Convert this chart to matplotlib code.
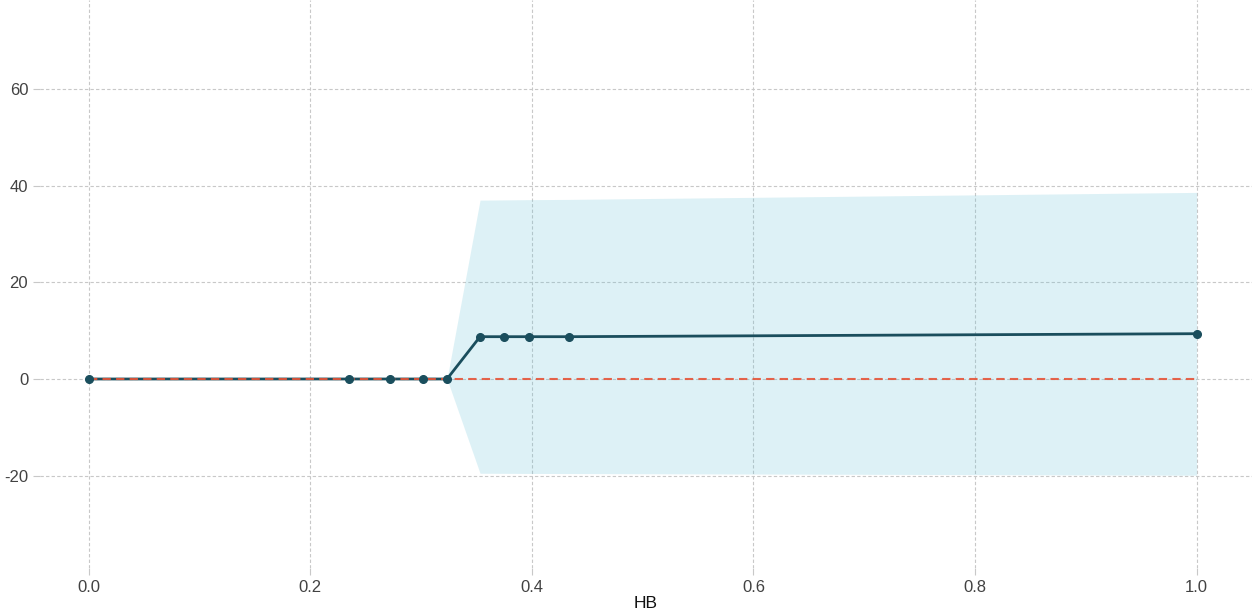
import matplotlib
matplotlib.use("Agg")
import matplotlib.pyplot as plt

plt.rcParams['font.family'] = ['Liberation Sans', 'DejaVu Sans']

hb = [0.0, 0.2349, 0.2719, 0.3017, 0.3234, 0.3532, 0.3749, 0.3975, 0.4336, 1.0]
pdp = [0.0, 0.0, 0.0, 0.0, 0.0, 8.75, 8.75, 8.75, 8.75, 9.37]
upper = [0.0, 0.0, 0.0, 0.0, 0.0, 37.0, 37.05, 37.1, 37.15, 38.6]
lower = [0.0, 0.0, 0.0, 0.0, 0.0, -19.5, -19.52, -19.54, -19.56, -19.9]
xticks = [0.0, 0.2, 0.4, 0.6, 0.8, 1.0]
yticks = [-20, 0, 20, 40, 60]

fig = plt.figure(figsize=(12.52, 6.13), dpi=100)
ax = fig.add_axes([40/1252, 45/613, 1212/1252, 568/613])

ax.fill_between(hb, upper, lower, color='#66C2D7', alpha=0.22, lw=0, zorder=1)
ax.plot(hb, pdp, color='#1A4E5D', lw=2, zorder=2)
ax.plot([hb[0], hb[-1]], [0, 0], ls=(0, (4, 2.5)), color='#E75438', lw=1.5, alpha=0.9, zorder=3)
ax.plot(hb, pdp, ls='none', color='#1A4E5D', marker='o', markersize=5.5, zorder=4)

ax.set_xlim(-0.044, 1.05)
ax.set_ylim(-39.1, 78.4)
ax.set_xticks(xticks)
ax.set_xticklabels([f"{v:.1f}" for v in xticks])
ax.set_yticks(yticks)
ax.set_yticklabels([str(v) for v in yticks])

for s in ax.spines.values():
    s.set_visible(False)
ax.grid(True, ls=(0, (3, 2)), color='#C8C8C8', lw=0.8)
ax.set_axisbelow(True)
ax.tick_params(axis='both', colors='#C8C8C8', labelcolor='#424242', labelsize=12, length=5, width=0.8)
ax.set_xlabel('HB', fontsize=12.5, color='#111111', labelpad=1)

fig.savefig('out.png', dpi=100)
